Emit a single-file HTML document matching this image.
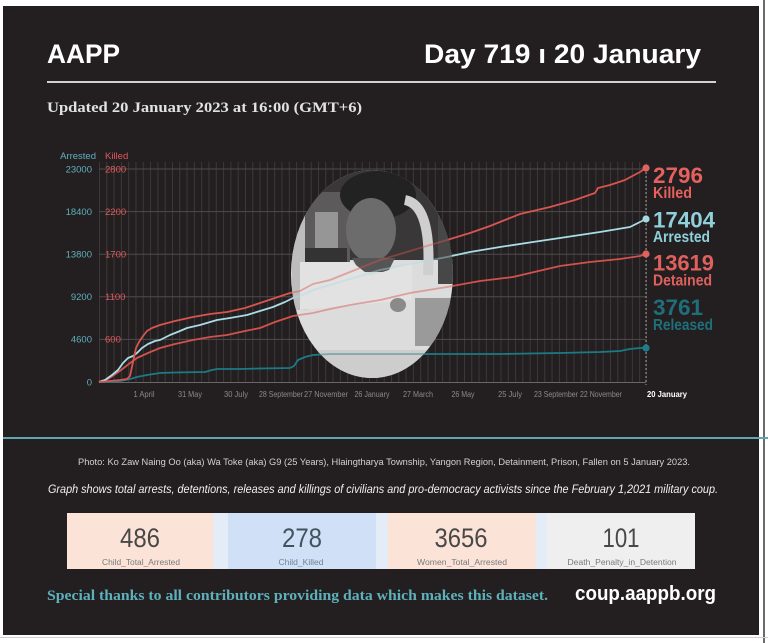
<!DOCTYPE html>
<html><head><meta charset="utf-8"><style>
html,body{margin:0;padding:0;background:#fff;}
svg{display:block;}
</style></head><body>
<svg width="768" height="643" viewBox="0 0 768 643" xmlns="http://www.w3.org/2000/svg">
<defs>
<pattern id="vg" x="99" y="0" width="7.3" height="10" patternUnits="userSpaceOnUse"><rect x="0" y="0" width="0.9" height="10" fill="#3e3a3b"/></pattern>
<clipPath id="ph"><ellipse cx="372" cy="274" rx="81" ry="104"/></clipPath>
</defs>
<rect x="0" y="0" width="768" height="643" fill="#ffffff"/>
<rect x="3" y="6" width="756" height="629" fill="#231f20"/>
<rect x="763" y="0" width="2" height="643" fill="#6a6a6a"/>
<rect x="0" y="637" width="768" height="1" fill="#cfcfcf"/>

<!-- header -->
<text x="47" y="63" font-family="Liberation Sans, sans-serif" font-weight="bold" font-size="27" fill="#ffffff" textLength="73" lengthAdjust="spacingAndGlyphs">AAPP</text>
<text x="424" y="63" font-family="Liberation Sans, sans-serif" font-weight="bold" font-size="27" fill="#ffffff" textLength="277" lengthAdjust="spacingAndGlyphs">Day 719 ı 20 January</text>
<rect x="47" y="81" width="669" height="2" fill="#d2d2d2"/>
<text x="47" y="112" font-family="Liberation Serif, serif" font-weight="bold" font-size="15" fill="#e2e2e2" textLength="315" lengthAdjust="spacingAndGlyphs">Updated 20 January 2023 at 16:00 (GMT+6)</text>

<!-- grid -->
<rect x="99" y="162" width="548" height="220" fill="url(#vg)"/>
<g stroke="#4f4b4c" stroke-width="1">
<line x1="99" y1="169" x2="646" y2="169"/>
<line x1="99" y1="211.6" x2="646" y2="211.6"/>
<line x1="99" y1="254.2" x2="646" y2="254.2"/>
<line x1="99" y1="296.8" x2="646" y2="296.8"/>
<line x1="99" y1="339.4" x2="646" y2="339.4"/>
</g>
<line x1="99" y1="382.5" x2="646" y2="382.5" stroke="#6a6667" stroke-width="1"/>

<!-- y labels -->
<g font-family="Liberation Sans, sans-serif" font-size="9.5">
<text x="96" y="159" text-anchor="end" fill="#5fb0bd">Arrested</text>
<text x="105" y="159" fill="#e0585b">Killed</text>
<g fill="#5fb0bd" text-anchor="end">
<text x="92" y="172.5">23000</text>
<text x="92" y="215">18400</text>
<text x="92" y="257.5">13800</text>
<text x="92" y="300">9200</text>
<text x="92" y="342.5">4600</text>
<text x="92" y="385.5">0</text>
</g>
<g fill="#e0585b">
<text x="105" y="172.5">2800</text>
<text x="105" y="215">2200</text>
<text x="105" y="257.5">1700</text>
<text x="105" y="300">1100</text>
<text x="105" y="342.5">600</text>
</g>
</g>

<!-- x labels -->
<g font-family="Liberation Sans, sans-serif" font-size="8" fill="#8a8a8a" text-anchor="middle">
<text x="144" y="397" textLength="21" lengthAdjust="spacingAndGlyphs">1 April</text>
<text x="190" y="397" textLength="24" lengthAdjust="spacingAndGlyphs">31 May</text>
<text x="236" y="397" textLength="24" lengthAdjust="spacingAndGlyphs">30 July</text>
<text x="281" y="397" textLength="44" lengthAdjust="spacingAndGlyphs">28 September</text>
<text x="326" y="397" textLength="44" lengthAdjust="spacingAndGlyphs">27 November</text>
<text x="372" y="397" textLength="35" lengthAdjust="spacingAndGlyphs">26 January</text>
<text x="418" y="397" textLength="30" lengthAdjust="spacingAndGlyphs">27 March</text>
<text x="463" y="397" textLength="23" lengthAdjust="spacingAndGlyphs">26 May</text>
<text x="510" y="397" textLength="24" lengthAdjust="spacingAndGlyphs">25 July</text>
<text x="556" y="397" textLength="44" lengthAdjust="spacingAndGlyphs">23 September</text>
<text x="601" y="397" textLength="42" lengthAdjust="spacingAndGlyphs">22 November</text>
</g>
<text x="647" y="397" font-family="Liberation Sans, sans-serif" font-size="8.5" font-weight="bold" fill="#ffffff" textLength="40" lengthAdjust="spacingAndGlyphs">20 January</text>

<!-- dotted end line -->
<line x1="646" y1="168" x2="646" y2="385" stroke="#9a9a9a" stroke-width="1" stroke-dasharray="2,2"/>

<!-- series -->
<g id="series" fill="none" stroke-width="1.8" stroke-linejoin="round">
<polyline stroke="#1c7a86" points="99,382 110,382 120,381 130,379 137,377 147,375 160,373 175,372.5 205,372 212,370 217,369 240,369 260,368.5 290,368 294,366 298,360 305,357 313,355 330,354 380,354 450,354 500,354 560,353 600,352 620,351 630,349 640,348 646,348"/>
<polyline stroke="#d2514d" points="99,382 108,379 117,373 125,367 130,363 137,358 148,353 160,348 175,344 193,340 210,337 227,335 245,331 260,328 275,322 293,316 313,313 330,309 350,305 380,300 410,293 447,287 480,281 513,277 530,273 560,266 590,262 620,259 640,256 646,254"/>
<polyline stroke="#a9dce5" points="99,382 105,380 112,375 118,370 123,363 128,358 133,356 137,353 142,348 148,344 155,341 160,340 170,335 180,331 187,328 200,325 217,320 230,318 247,315 260,311 273,307 285,302 293,298 300,296 313,290 330,285 350,279 380,270 410,264 447,257 470,252 500,247 533,242 560,238 600,232 630,227 640,222 646,219"/>
<polyline stroke="#d9544f" points="99,382 110,381 120,380 127,379 130,376 133,362 136,348 139,342 143,336 147,331 152,328 160,325 175,321 193,317 210,314 227,312 245,308 260,303 275,298 290,293 300,291 313,284 330,280 350,272 365,266 380,260 400,254 420,248 447,240 470,233 490,226 500,222 520,214 550,207 575,200 595,193 598,188 610,185 625,180 640,172 646,168"/>
</g>

<!-- photo -->
<g clip-path="url(#ph)">
<rect x="280" y="160" width="190" height="230" fill="#dcdcdc"/>
<rect x="280" y="160" width="190" height="100" fill="#3a3738"/>
<rect x="292" y="200" width="15" height="110" fill="#bdbdbd"/>
<rect x="305" y="192" width="45" height="70" fill="#5c5a5a"/>
<rect x="315" y="212" width="23" height="36" fill="#969696"/>
<rect x="305" y="248" width="42" height="17" fill="#333"/>
<ellipse cx="378" cy="195" rx="38" ry="24" fill="#222"/>
<ellipse cx="371" cy="230" rx="25" ry="32" fill="#6c6c6c"/>
<path d="M352,258 L395,258 L388,272 L360,272 Z" fill="#555"/>
<path d="M405,200 Q432,205 428,275" stroke="#cfcfcf" stroke-width="10" fill="none"/>
<rect x="438" y="212" width="16" height="72" fill="#474747"/>
<path d="M300,262 L352,262 L370,276 L395,268 L412,262 L412,300 L300,310 Z" fill="#e2e2e2"/>
<rect x="415" y="298" width="40" height="48" fill="#9a9a9a"/>
<ellipse cx="398" cy="305" rx="8" ry="7" fill="#8a8a8a"/>
<rect x="280" y="350" width="190" height="40" fill="#cdcdcd"/>
<use href="#series" opacity="0.45"/>
</g>

<!-- end dots -->
<circle cx="646" cy="168" r="3.6" fill="#e06361"/>
<circle cx="646" cy="219" r="3.6" fill="#a4d9e2"/>
<circle cx="646" cy="254" r="3.6" fill="#df625f"/>
<circle cx="646" cy="348" r="3.6" fill="#1f7d89"/>

<!-- right labels -->
<g font-family="Liberation Sans, sans-serif" font-weight="bold">
<text x="653" y="183" font-size="22" fill="#e5615f" textLength="50" lengthAdjust="spacingAndGlyphs">2796</text>
<text x="653" y="198" font-size="16" fill="#e5615f" textLength="39" lengthAdjust="spacingAndGlyphs">Killed</text>
<text x="653" y="227.5" font-size="22" fill="#8fd0db" textLength="62" lengthAdjust="spacingAndGlyphs">17404</text>
<text x="653" y="242" font-size="16" fill="#8fd0db" textLength="57" lengthAdjust="spacingAndGlyphs">Arrested</text>
<text x="653" y="270.5" font-size="22" fill="#e0605e" textLength="61" lengthAdjust="spacingAndGlyphs">13619</text>
<text x="653" y="285.5" font-size="16" fill="#e0605e" textLength="59" lengthAdjust="spacingAndGlyphs">Detained</text>
<text x="653" y="315" font-size="22" fill="#1f6f7b" textLength="50" lengthAdjust="spacingAndGlyphs">3761</text>
<text x="653" y="330" font-size="16" fill="#1f6f7b" textLength="60" lengthAdjust="spacingAndGlyphs">Released</text>
</g>

<!-- separator -->
<rect x="3" y="437" width="765" height="2" fill="#5fa8b3"/>

<!-- captions -->
<text x="384" y="465" text-anchor="middle" font-family="Liberation Sans, sans-serif" font-size="9" fill="#d2d2d2" textLength="612" lengthAdjust="spacingAndGlyphs">Photo:  Ko Zaw Naing Oo (aka) Wa Toke (aka) G9 (25 Years), Hlaingtharya Township, Yangon Region, Detainment, Prison, Fallen on 5 January 2023.</text>
<text x="383" y="493" text-anchor="middle" font-family="Liberation Sans, sans-serif" font-style="italic" font-size="11.5" fill="#f0f0f0" textLength="670" lengthAdjust="spacingAndGlyphs">Graph shows total arrests, detentions, releases and killings of civilians and pro-democracy activists since the February 1,2021 military coup.</text>

<!-- stats box -->
<rect x="67" y="513" width="628" height="56" fill="#e4ecf7"/>
<rect x="67" y="513" width="146" height="56" fill="#fce3d8"/>
<rect x="228" y="513" width="148" height="56" fill="#cfe0f7"/>
<rect x="388" y="513" width="148" height="56" fill="#fce3d8"/>
<rect x="547" y="513" width="148" height="56" fill="#efefef"/>
<g font-family="Liberation Sans, sans-serif" text-anchor="middle">
<g font-size="27" fill="#484848">
<text x="140" y="547" textLength="40" lengthAdjust="spacingAndGlyphs">486</text>
<text x="302" y="547" textLength="40" lengthAdjust="spacingAndGlyphs" fill="#3f545c">278</text>
<text x="461" y="547" textLength="53" lengthAdjust="spacingAndGlyphs">3656</text>
<text x="621" y="547" textLength="37" lengthAdjust="spacingAndGlyphs">101</text>
</g>
<g font-size="8" fill="#7a7a7a">
<text x="141" y="565" textLength="78" lengthAdjust="spacingAndGlyphs">Child_Total_Arrested</text>
<text x="301" y="565" textLength="45" lengthAdjust="spacingAndGlyphs" fill="#6f8590">Child_Killed</text>
<text x="462" y="565" textLength="90" lengthAdjust="spacingAndGlyphs">Women_Total_Arrested</text>
<text x="622" y="565" textLength="109" lengthAdjust="spacingAndGlyphs">Death_Penalty_in_Detention</text>
</g>
</g>

<!-- footer -->
<text x="47" y="600" font-family="Liberation Serif, serif" font-weight="bold" font-size="15" fill="#5db1bb" textLength="501" lengthAdjust="spacingAndGlyphs">Special thanks to all contributors providing data which makes this dataset.</text>
<text x="575" y="600" font-family="Liberation Sans, sans-serif" font-weight="bold" font-size="20" fill="#ffffff" textLength="141" lengthAdjust="spacingAndGlyphs">coup.aappb.org</text>
</svg>
</body></html>
